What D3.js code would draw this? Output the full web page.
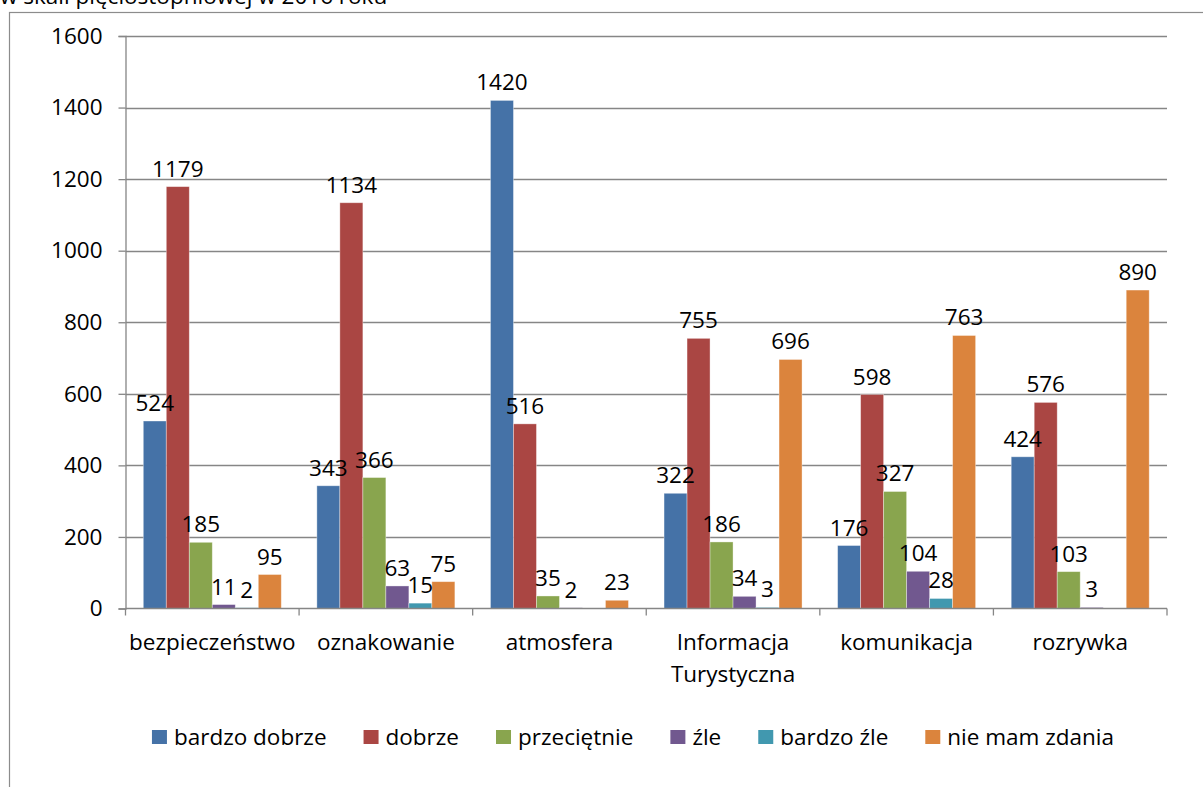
<!DOCTYPE html>
<html>
<head>
<meta charset="utf-8">
<script src="https://cdn.jsdelivr.net/npm/d3@7"></script>
<style>
  html, body { margin: 0; padding: 0; background: #fff; }
  svg { display: block; font-family: "Open Sans", "Noto Sans", sans-serif; }
</style>
</head>
<body>
<svg id="chart" width="1203" height="787"></svg>
<script>
// Categories (x axis) and their printed labels (may wrap onto two lines)
const categories = ["bezpieczeństwo", "oznakowanie", "atmosfera", "Informacja Turystyczna", "komunikacja", "rozrywka"];
const categoryLines = [["bezpieczeństwo"], ["oznakowanie"], ["atmosfera"], ["Informacja", "Turystyczna"], ["komunikacja"], ["rozrywka"]];

// Rating series
const seriesNames = ["bardzo dobrze", "dobrze", "przeciętnie", "źle", "bardzo źle", "nie mam zdania"];
const seriesColors = ["#4572A7", "#AA4643", "#89A54E", "#71588F", "#4198AF", "#DB843D"];

// Values per series, in category order (null = no answer recorded)
const bardzoDobrze = [524, 343, 1420, 322, 176, 424];
const dobrze       = [1179, 1134, 516, 755, 598, 576];
const przecietnie  = [185, 366, 35, 186, 327, 103];
const zle          = [11, 63, 2, 34, 104, 3];
const bardzoZle    = [2, 15, null, 3, 28, null];
const nieMamZdania = [95, 75, 23, 696, 763, 890];

const yTicks = [0, 200, 400, 600, 800, 1000, 1200, 1400, 1600];
const titleTail = "w skali pięciostopniowej w 2016 roku";

const seriesValues = [bardzoDobrze, dobrze, przecietnie, zle, bardzoZle, nieMamZdania];

const svg = d3.select("#chart");
const W = 1203, H = 787;
const fontSize = 22.5;
const gridColor = "#868686";

// Background and chart-area frame
svg.append("rect").attr("width", W).attr("height", H).attr("fill", "#fff");
svg.append("rect")
  .attr("x", 9.5).attr("y", 12.5)
  .attr("width", W + 20).attr("height", H + 20)
  .attr("fill", "none").attr("stroke", "#8c8c8c").attr("stroke-width", 1.2);

// Tail of the title line above the frame
svg.append("text")
  .attr("x", 0).attr("y", 4)
  .attr("font-size", fontSize)
  .attr("fill", "#000")
  .text(titleTail);

// Scales
const plot = { left: 125.5, right: 1167, top: 36, bottom: 608.5 };
const y = d3.scaleLinear().domain([0, 1600]).range([plot.bottom, plot.top]);
const x0 = d3.scaleBand().domain(categories).range([plot.left, plot.right]).padding(0);
const bw = x0.bandwidth();
const gap = bw * 0.1025;
const x1 = d3.scaleBand().domain(seriesNames).range([gap, bw - gap]).padding(0);

// Horizontal gridlines
svg.append("g")
  .selectAll("line")
  .data(yTicks.filter(t => t > 0))
  .join("line")
  .attr("x1", plot.left).attr("x2", plot.right)
  .attr("y1", d => Math.round(y(d)) + 0.5).attr("y2", d => Math.round(y(d)) + 0.5)
  .attr("stroke", gridColor).attr("stroke-width", 1.3);

// Y axis
const yAxis = d3.axisLeft(y).tickValues(yTicks).tickSize(7).tickPadding(16).tickFormat(d3.format("d"));
const gy = svg.append("g").attr("transform", `translate(${plot.left},0)`).call(yAxis);
gy.select(".domain").attr("stroke", gridColor).attr("stroke-width", 1.3);
gy.selectAll(".tick line").attr("stroke", gridColor).attr("stroke-width", 1.3);
gy.selectAll(".tick text")
  .attr("font-size", fontSize).attr("font-family", "'Open Sans', sans-serif")
  .attr("fill", "#000");

// Bars
const rows = [];
categories.forEach((c, ci) => {
  seriesNames.forEach((s, si) => {
    const v = seriesValues[si][ci];
    if (v !== null && v !== undefined) rows.push({ c, s, si, v });
  });
});

svg.append("g")
  .selectAll("rect")
  .data(rows)
  .join("rect")
  .attr("x", d => x0(d.c) + x1(d.s))
  .attr("y", d => y(d.v))
  .attr("width", x1.bandwidth())
  .attr("height", d => Math.max(0.8, y(0) - y(d.v)))
  .attr("fill", d => seriesColors[d.si])
  .attr("stroke", "#ffffff").attr("stroke-opacity", 0.45).attr("stroke-width", 0.8);

// X axis line with category boundary ticks
svg.append("line")
  .attr("x1", plot.left).attr("x2", plot.right)
  .attr("y1", plot.bottom).attr("y2", plot.bottom)
  .attr("stroke", gridColor).attr("stroke-width", 1.3);
const bounds = categories.map(c => x0(c)).concat([plot.right]);
svg.append("g")
  .selectAll("line")
  .data(bounds)
  .join("line")
  .attr("x1", d => d).attr("x2", d => d)
  .attr("y1", plot.bottom).attr("y2", plot.bottom + 7)
  .attr("stroke", gridColor).attr("stroke-width", 1.3);

// Value labels above bars
svg.append("g")
  .selectAll("text")
  .data(rows)
  .join("text")
  .attr("x", d => x0(d.c) + x1(d.s) + x1.bandwidth() / 2)
  .attr("y", d => y(d.v) - 10)
  .attr("text-anchor", "middle")
  .attr("font-size", fontSize)
  .attr("fill", "#000")
  .text(d => d.v);

// Category labels
const catG = svg.append("g");
categories.forEach((c, ci) => {
  const t = catG.append("text")
    .attr("x", x0(c) + bw / 2)
    .attr("y", 650)
    .attr("text-anchor", "middle")
    .attr("font-size", fontSize)
    .attr("fill", "#000");
  categoryLines[ci].forEach((line, li) => {
    t.append("tspan").attr("x", x0(c) + bw / 2).attr("dy", li === 0 ? 0 : 32).text(line);
  });
});

// Legend, laid out left to right
const legend = svg.append("g");
const itemGap = 37, swatch = 15, swGap = 7;
let cursor = 0;
seriesNames.forEach((name, i) => {
  const g = legend.append("g");
  g.append("rect")
    .attr("x", 0).attr("y", 730)
    .attr("width", swatch).attr("height", 14)
    .attr("fill", seriesColors[i]);
  const txt = g.append("text")
    .attr("x", swatch + swGap).attr("y", 745)
    .attr("font-size", fontSize)
    .attr("fill", "#000")
    .text(name);
  const w = swatch + swGap + txt.node().getComputedTextLength();
  g.attr("transform", `translate(${cursor},0)`);
  cursor += w + itemGap;
});
const legendWidth = cursor - itemGap;
const legendCenter = 633;
legend.attr("transform", `translate(${legendCenter - legendWidth / 2},0)`);
</script>
</body>
</html>
